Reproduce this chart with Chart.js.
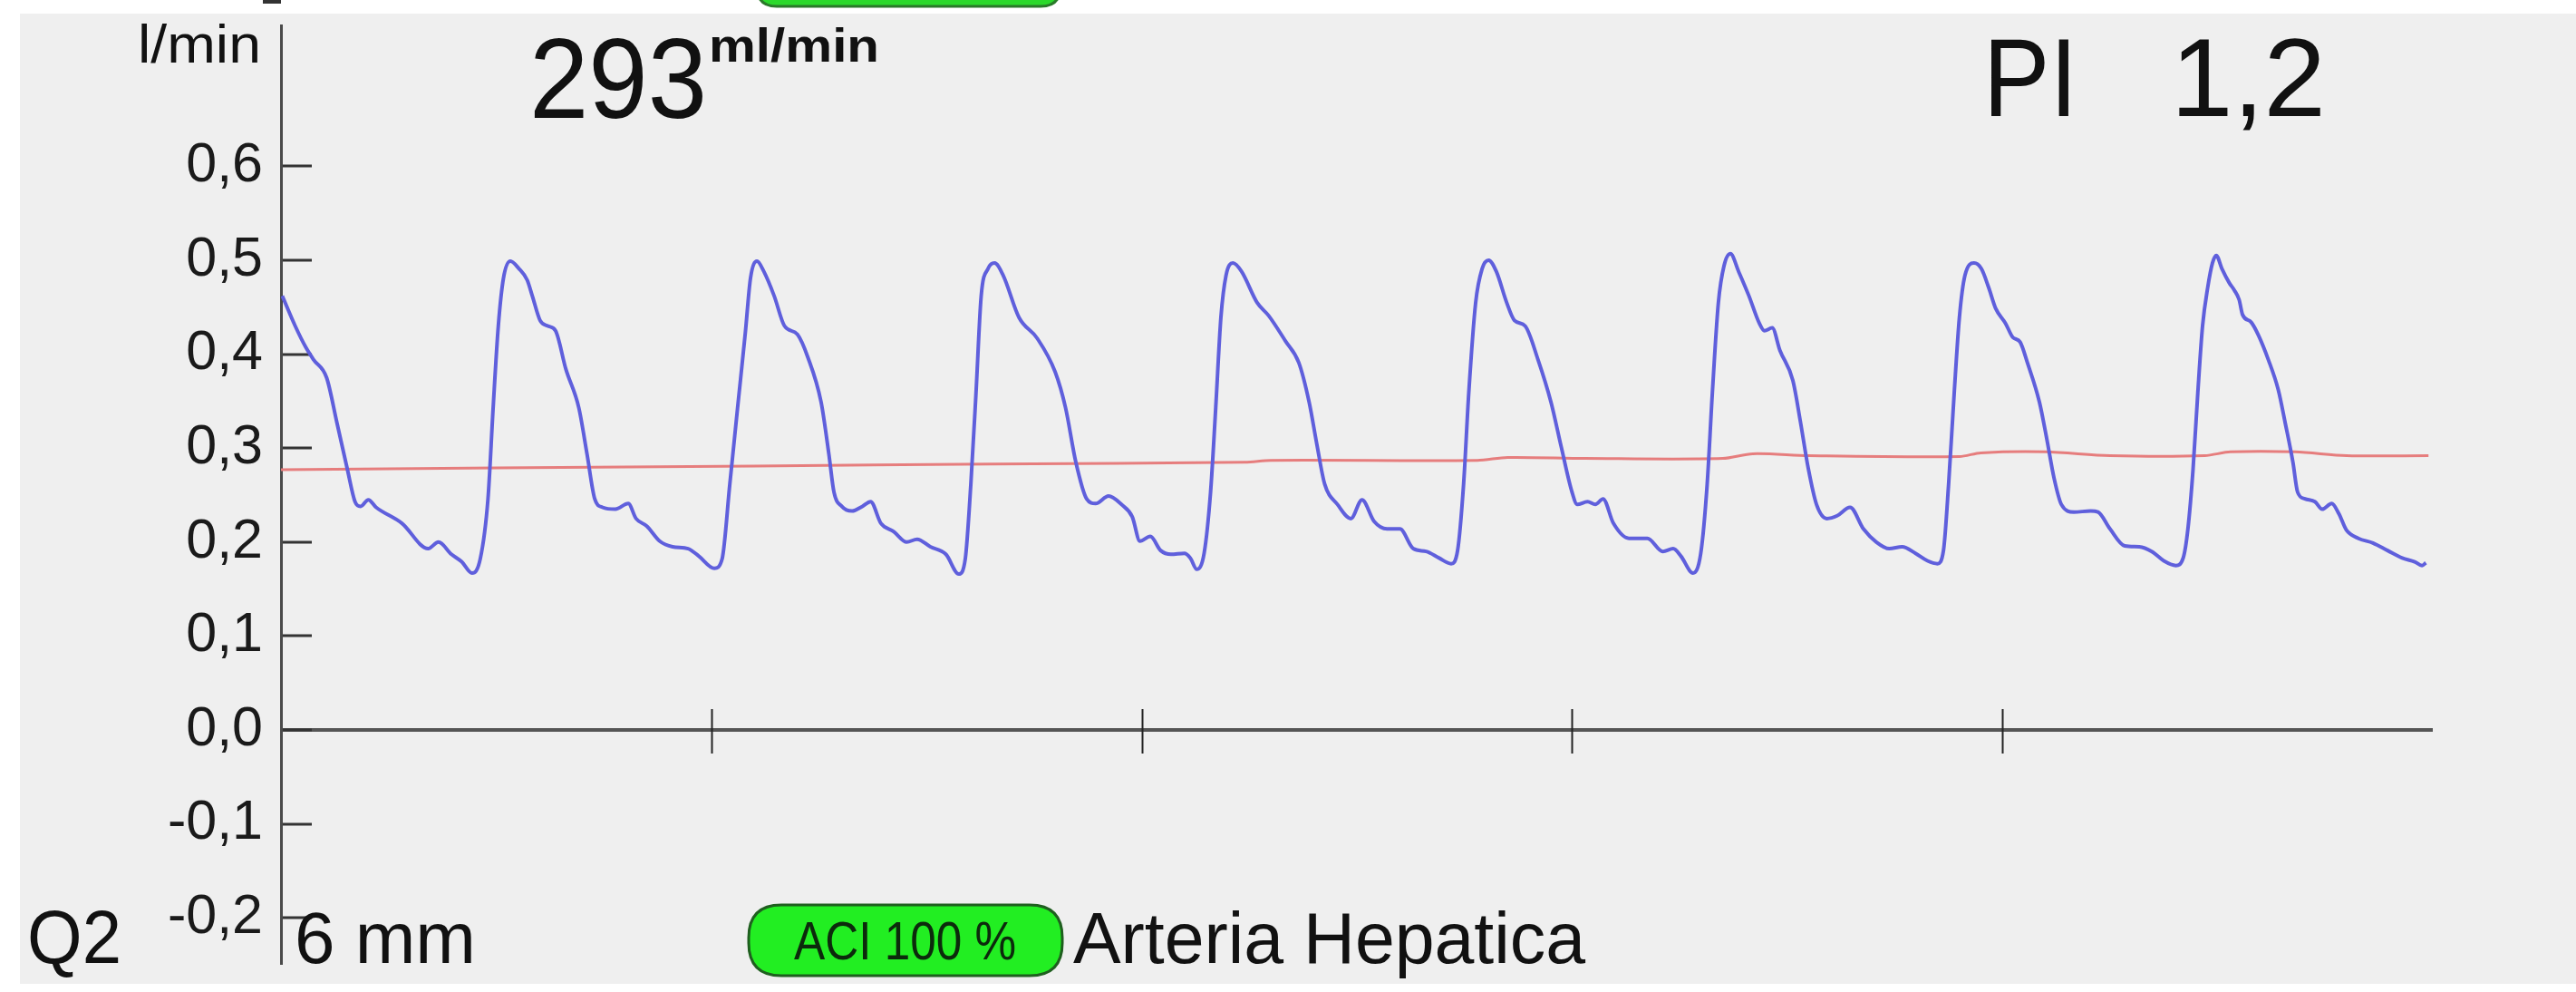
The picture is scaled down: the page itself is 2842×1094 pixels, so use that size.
<!DOCTYPE html>
<html><head><meta charset="utf-8">
<script src="https://cdn.jsdelivr.net/npm/chart.js@4.4.1/dist/chart.umd.min.js"></script>
<style>html,body{margin:0;padding:0;background:#fff;overflow:hidden}canvas{display:block}</style>
</head><body>
<canvas id="c" width="2842" height="1094"></canvas>
<script>
// Flow waveform (seconds, l/min)
const blueTime = [0.003,0.033,0.058,0.076,0.106,0.130,0.154,0.172,0.185,0.203,0.221,0.281,0.342,0.366,0.396,0.420,0.444,0.463,0.481,0.493,0.505,0.517,0.533,0.553,0.572,0.584,0.602,0.620,0.638,0.662,0.692,0.711,0.729,0.747,0.777,0.807,0.825,0.850,0.880,0.910,0.946,0.971,1.007,1.025,1.043,1.061,1.079,1.091,1.106,1.122,1.146,1.170,1.200,1.224,1.255,1.273,1.285,1.303,1.327,1.351,1.370,1.394,1.424,1.454,1.478,1.509,1.545,1.575,1.590,1.603,1.615,1.627,1.643,1.658,1.678,1.715,1.757,1.799,1.823,1.847,1.872,1.893,1.923,1.953,1.978,1.996,2.020,2.044,2.068,2.099,2.113,2.128,2.145,2.160,2.172,2.184,2.196,2.212,2.232,2.268,2.295,2.334,2.365,2.389,2.407,2.425,2.455,2.486,2.512,2.540,2.570,2.600,2.631,2.661,2.691,2.719,2.734,2.748,2.760,2.776,2.791,2.806,2.824,2.848,2.866,2.891,2.921,2.951,2.975,3.000,3.012,3.036,3.054,3.072,3.096,3.132,3.175,3.211,3.235,3.253,3.281,3.299,3.314,3.326,3.340,3.353,3.368,3.387,3.411,3.435,3.447,3.465,3.483,3.513,3.531,3.549,3.568,3.592,3.616,3.646,3.677,3.707,3.737,3.767,3.798,3.826,3.849,3.863,3.875,3.888,3.900,3.913,3.934,3.951,3.968,3.984,4.007,4.024,4.041,4.058,4.086,4.103,4.120,4.137,4.166,4.205,4.222,4.250,4.284,4.318,4.347,4.375,4.403,4.420,4.431,4.443,4.454,4.465,4.477,4.488,4.497,4.510,4.527,4.539,4.550,4.558,4.578,4.595,4.618,4.641,4.657,4.675,4.686,4.703,4.726,4.743,4.765,4.782,4.799,4.827,4.861,4.895,4.929,4.958,4.975,4.984];
const blueFlow = [0.462,0.430,0.407,0.394,0.375,0.327,0.278,0.243,0.238,0.245,0.237,0.220,0.193,0.200,0.187,0.179,0.167,0.182,0.246,0.343,0.430,0.481,0.499,0.491,0.479,0.462,0.436,0.430,0.425,0.384,0.343,0.294,0.246,0.237,0.235,0.241,0.225,0.217,0.201,0.195,0.193,0.185,0.172,0.182,0.262,0.343,0.423,0.481,0.499,0.488,0.462,0.430,0.421,0.397,0.349,0.294,0.253,0.238,0.233,0.238,0.243,0.220,0.211,0.200,0.203,0.195,0.187,0.166,0.182,0.262,0.359,0.462,0.491,0.497,0.484,0.439,0.417,0.381,0.343,0.285,0.246,0.241,0.249,0.240,0.227,0.201,0.206,0.191,0.187,0.188,0.183,0.171,0.188,0.253,0.343,0.439,0.484,0.497,0.488,0.455,0.441,0.414,0.391,0.349,0.304,0.262,0.240,0.225,0.245,0.222,0.214,0.214,0.193,0.190,0.183,0.177,0.191,0.262,0.359,0.455,0.491,0.500,0.488,0.455,0.436,0.430,0.394,0.349,0.301,0.253,0.240,0.243,0.240,0.246,0.220,0.204,0.204,0.190,0.193,0.185,0.167,0.188,0.262,0.359,0.455,0.494,0.507,0.488,0.462,0.433,0.425,0.428,0.404,0.372,0.327,0.278,0.240,0.225,0.228,0.237,0.214,0.200,0.193,0.195,0.188,0.180,0.177,0.191,0.262,0.359,0.439,0.484,0.497,0.491,0.471,0.449,0.433,0.418,0.413,0.391,0.349,0.310,0.268,0.240,0.232,0.233,0.232,0.214,0.196,0.195,0.190,0.180,0.175,0.183,0.214,0.278,0.359,0.430,0.471,0.497,0.505,0.491,0.476,0.468,0.458,0.442,0.434,0.420,0.394,0.362,0.327,0.285,0.253,0.246,0.243,0.235,0.241,0.230,0.213,0.204,0.199,0.191,0.183,0.179,0.175,0.178];
// Mean flow line
const meanTime = [0.00,0.50,1.10,1.65,2.24,2.30,2.78,2.85,3.03,3.35,3.42,3.55,3.90,3.95,4.10,4.25,4.47,4.53,4.68,4.80,4.99];
const meanFlow = [0.277,0.279,0.281,0.283,0.285,0.287,0.287,0.290,0.289,0.289,0.294,0.292,0.291,0.295,0.296,0.292,0.292,0.296,0.296,0.292,0.292];
const yTickValues = [-0.2,-0.1,0,0.1,0.2,0.3,0.4,0.5,0.6];
const xTickValues = [1,2,3,4];
const yUnit = 'l/min';
const meanValue = '293';
const meanUnit = 'ml/min';
const piLabel = 'PI';
const piValue = '1,2';
const probeLabel = 'Q2';
const probeSize = '6 mm';
const aciLabel = 'ACI 100 %';
const vesselLabel = 'Arteria Hepatica';

const FONT = "'Liberation Sans', Arial, sans-serif";

function drawText(ctx, text, x, y, size, weight, align) {
  ctx.font = (weight || 'normal') + ' ' + size + 'px ' + FONT;
  ctx.textAlign = align || 'left';
  ctx.fillText(text, x, y);
}
function fitText(ctx, text, x, y, size, weight, targetW) {
  ctx.font = (weight || 'normal') + ' ' + size + 'px ' + FONT;
  ctx.textAlign = 'left';
  const w = ctx.measureText(text).width;
  ctx.save();
  ctx.translate(x, y);
  ctx.scale(targetW / w, 1);
  ctx.fillText(text, 0, 0);
  ctx.restore();
}
function pill(ctx, x, y, w, h, r) {
  ctx.beginPath();
  ctx.moveTo(x + r, y);
  ctx.lineTo(x + w - r, y);
  ctx.quadraticCurveTo(x + w, y, x + w, y + r);
  ctx.lineTo(x + w, y + h - r);
  ctx.quadraticCurveTo(x + w, y + h, x + w - r, y + h);
  ctx.lineTo(x + r, y + h);
  ctx.quadraticCurveTo(x, y + h, x, y + h - r);
  ctx.lineTo(x, y + r);
  ctx.quadraticCurveTo(x, y, x + r, y);
  ctx.closePath();
}

const decor = {
  id: 'decor',
  beforeDraw(chart) {
    const ctx = chart.ctx;
    ctx.save();
    ctx.fillStyle = '#ffffff';
    ctx.fillRect(0, 0, chart.width, chart.height);
    ctx.fillStyle = '#efefef';
    ctx.fillRect(22, 15, chart.width - 22, 1085 - 15);
    // cut-off elements of the panel above
    pill(ctx, 835, -40, 335, 47, 22);
    ctx.fillStyle = '#2bd92b'; ctx.fill();
    ctx.lineWidth = 3; ctx.strokeStyle = '#2a7a2a'; ctx.stroke();
    ctx.fillStyle = '#333';
    ctx.fillRect(290, 0, 20, 4);
    ctx.restore();
  },
  afterDraw(chart) {
    const ctx = chart.ctx;
    const xs = chart.scales.x, ys = chart.scales.y;
    const y0 = ys.getPixelForValue(0);
    ctx.save();
    ctx.strokeStyle = '#222';
    ctx.lineWidth = 2;
    xTickValues.forEach(v => {
      const px = Math.round(xs.getPixelForValue(v)) + 0.5;
      ctx.beginPath();
      ctx.moveTo(px, y0 - 23);
      ctx.lineTo(px, y0 + 26);
      ctx.stroke();
    });
    ctx.fillStyle = '#111';
    ctx.textBaseline = 'alphabetic';
    fitText(ctx, yUnit, 152, 69, 60, 'normal', 136);
    fitText(ctx, meanValue, 584, 130, 126, 'normal', 196);
    fitText(ctx, meanUnit, 782, 68, 52, 'bold', 188);
    fitText(ctx, piLabel, 2188, 128, 123, 'normal', 104);
    drawText(ctx, piValue, 2395, 128, 123, 'normal', 'left');
    fitText(ctx, probeLabel, 30, 1062, 84, 'normal', 104);
    drawText(ctx, probeSize, 325, 1062, 80, 'normal', 'left');
    pill(ctx, 826, 998, 346, 78, 36);
    ctx.fillStyle = '#22ee22'; ctx.fill();
    ctx.lineWidth = 3; ctx.strokeStyle = '#1f5f1f'; ctx.stroke();
    ctx.fillStyle = '#0c2a0c';
    fitText(ctx, aciLabel, 876, 1058, 60, 'normal', 245);
    ctx.fillStyle = '#111';
    fitText(ctx, vesselLabel, 1184, 1062, 80, 'normal', 565);
    ctx.restore();
  }
};

new Chart(document.getElementById('c'), {
  type: 'line',
  data: {
    datasets: [
      {
        label: 'Flusso',
        data: blueTime.map((t, i) => ({x: t, y: blueFlow[i]})),
        borderColor: '#5f5fdc',
        borderWidth: 4,
        pointRadius: 0,
        cubicInterpolationMode: 'monotone',
        fill: false
      },
      {
        label: 'Media',
        data: meanTime.map((t, i) => ({x: t, y: meanFlow[i]})),
        borderColor: '#e67d7d',
        borderWidth: 3,
        pointRadius: 0,
        tension: 0.3,
        fill: false
      }
    ]
  },
  options: {
    responsive: false,
    animation: false,
    devicePixelRatio: 1,
    layout: {padding: {left: 0, right: 158, top: 28, bottom: 30}},
    plugins: {legend: {display: false}, tooltip: {enabled: false}},
    scales: {
      x: {type: 'linear', min: 0, max: 5, display: false},
      y: {
        type: 'linear', min: -0.25, max: 0.75,
        afterBuildTicks: s => { s.ticks = yTickValues.map(v => ({value: v})); },
        afterFit: s => { s.width = 310; s.paddingTop = 0; s.paddingBottom = 0; },
        border: {display: true, color: '#4a4a4a', width: 3},
        grid: {
          drawOnChartArea: true,
          drawTicks: true,
          tickLength: -34,
          tickWidth: 3,
          tickColor: '#333',
          color: c => (c.tick && c.tick.value === 0) ? '#555555' : 'rgba(0,0,0,0)',
          lineWidth: c => (c.tick && c.tick.value === 0) ? 4 : 0
        },
        ticks: {
          padding: 54,
          color: '#1a1a1a',
          autoSkip: false,
          font: {family: FONT, size: 61},
          callback: v => Number(v).toFixed(1).replace('.', ',')
        }
      }
    }
  },
  plugins: [decor]
});
</script>
</body></html>
